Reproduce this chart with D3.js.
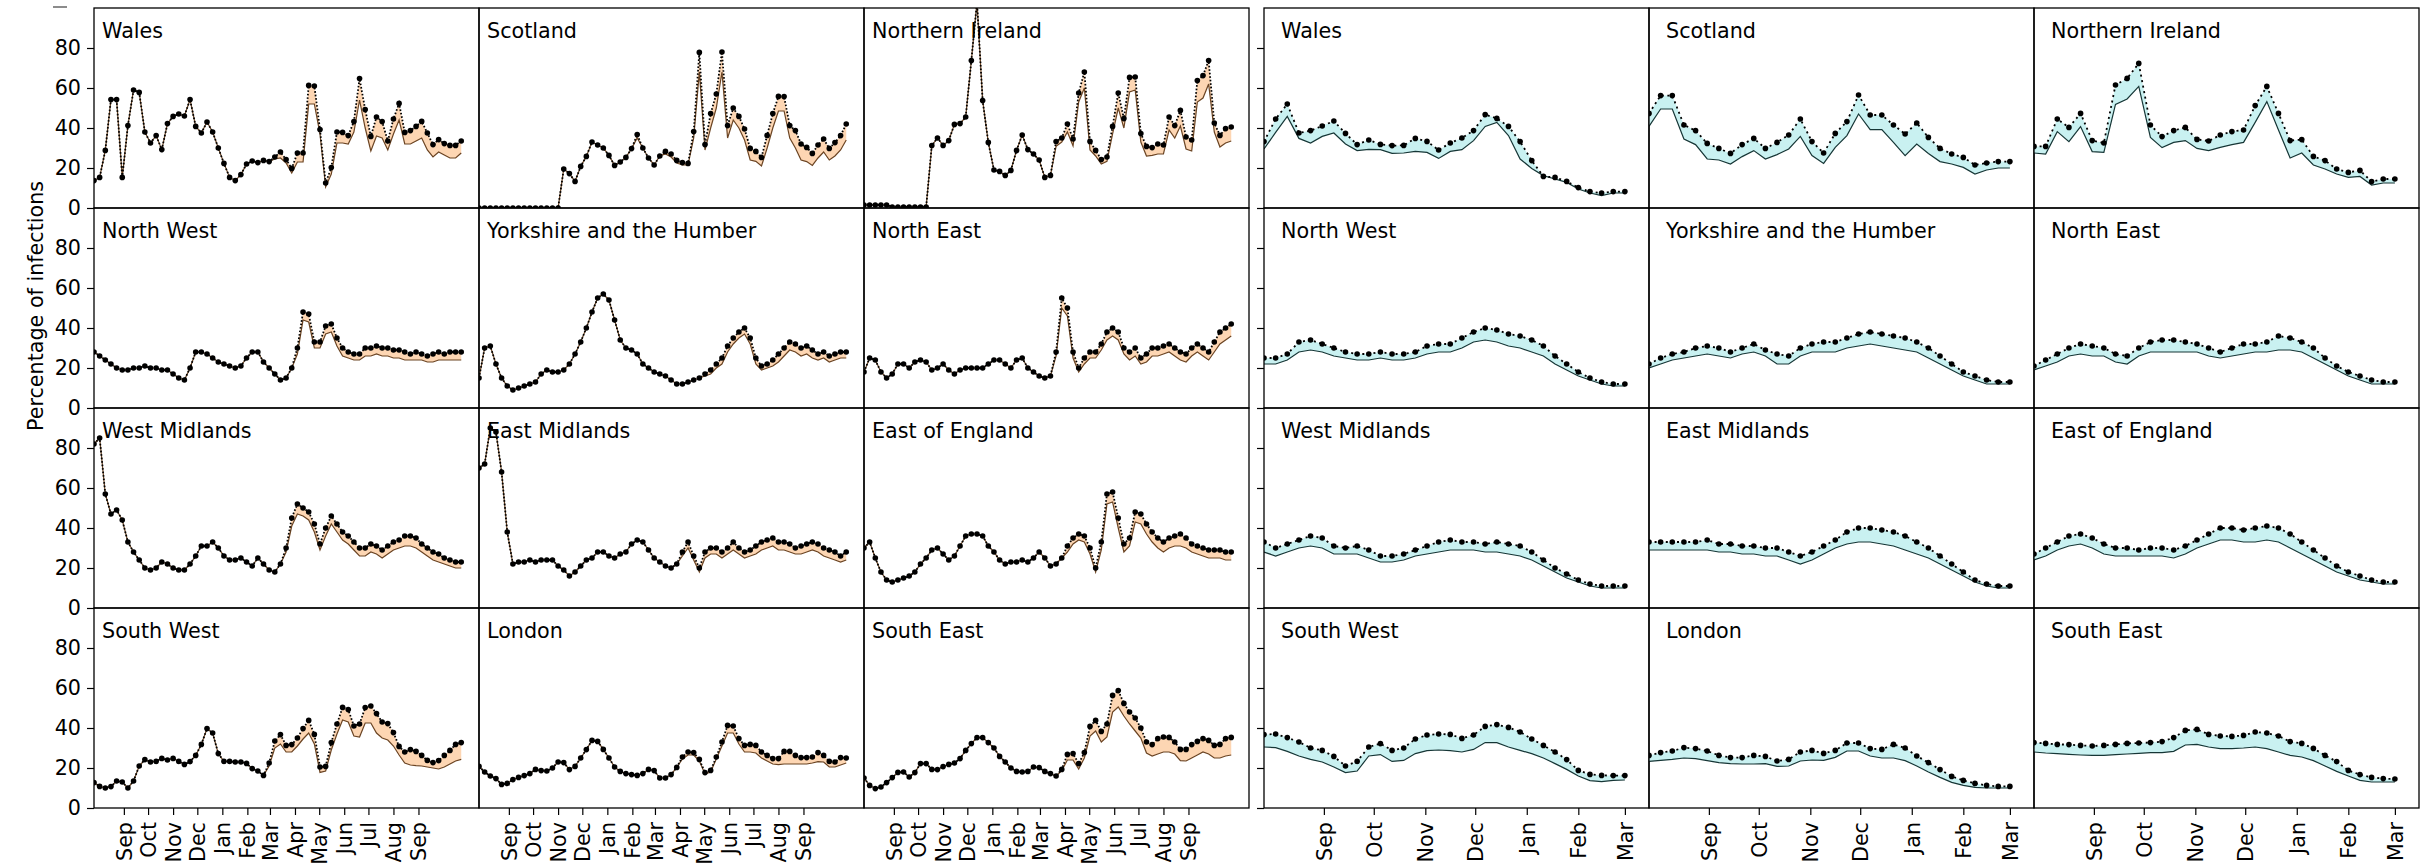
<!DOCTYPE html>
<html>
<head>
<meta charset="utf-8">
<script src="https://cdn.jsdelivr.net/npm/d3@7"></script>
<style>
  body { margin: 0; background: #fff; }
  svg { display: block; }
  text { font-family: "DejaVu Sans", sans-serif; }
</style>
</head>
<body>
<script>
const regions = ["Wales", "Scotland", "Northern Ireland", "North West", "Yorkshire and the Humber", "North East",
    "West Midlands", "East Midlands", "East of England", "South West", "London", "South East"];

// weekly series: left block 66 weeks, right block 32 weeks
const leftStart = "2021-07-26", leftWeeks = 66, leftSpanDays = 477;
const rightStart = "2020-07-27", rightWeeks = 32, rightSpanDays = 231.5;
const leftTicks = ["2021-09-01", "2021-10-01", "2021-11-01", "2021-12-01", "2022-01-01", "2022-02-01", "2022-03-01",
    "2022-04-01", "2022-05-01", "2022-06-01", "2022-07-01", "2022-08-01", "2022-09-01"];
const rightTicks = ["2020-09-01", "2020-10-01", "2020-11-01", "2020-12-01", "2021-01-01", "2021-02-01", "2021-03-01"];
const yTicks = [0, 20, 40, 60, 80];

// ---- left block ----
const leftWalesHigh = [13.7,15.3,28.8,54.2,54.2,15.3,41.2,59,57.8,38,32.5,36.2,29.2,42.2,45.8,47,46,54.2,40.8,37.5,43,38,30,22.3,15.3,13.7,16.7,22,23.5,22.7,23.8,23.2,25.5,28,24.2,19.8,27.5,27.5,61.3,61,39.2,12.5,20.2,38,37.8,36.2,43.2,64.7,49.2,35.8,45.5,43.2,33.5,44.5,52.3,37.8,38.7,40.8,43.3,37.5,31.7,34.2,32.2,31.3,31.3,33.5];
const leftWalesLow = [13.7,15.3,28.8,54.2,54.2,15.3,41.2,59,57.8,38,32.5,36.2,29.2,42.2,45.8,47,46,54.2,40.8,37.5,43,38,30,22.3,15.3,13.7,16.7,22,23.5,22.7,23.8,23.2,24.5,25,22.5,17.5,23,23,52,52,37,10.5,17,32.5,32.5,32,38,54,40,28.5,36,35,29,37,44,32,32,33.5,35,29,25.5,28,26.5,25,25,27.5];
const leftScotlandHigh = [0,0,0,0,0,0,0,0,0,0,0,0,0,0,0,19.5,17.2,13.3,20.8,25.8,33,31.5,30,26.3,21.3,23,25.3,29.7,36.7,30,25,21.5,26,28.3,27,23.8,22.7,22.3,38.2,77.8,31.7,47.2,57,78,41.2,50,45.8,39.5,29.8,28.3,25.3,36.3,47.2,55.8,55.7,41.2,38.7,32,30.3,27.3,31.5,34.5,29.8,32.7,36.2,42];
const leftScotlandLow = [0,0,0,0,0,0,0,0,0,0,0,0,0,0,0,19.5,17.2,13.3,20.8,25.8,33,31.5,30,26.3,21.3,23,25.3,29.7,35,30,25,21.5,26,27,25.5,22.5,21.5,21.5,35,68,29,40,50,68,35,44,40,34,24,23.3,21,30,40,48.5,48.5,35,30,24,23.2,21.3,25,28,24,26,29,34];
const leftNIHigh = [1.5,1.5,1.5,1.5,1.5,0.5,0.5,0.5,0.5,0.5,0.5,0.5,31.2,35,31.3,33.7,41.8,42.2,45.5,73.7,103,53.7,32.8,19,18.3,16.3,18.8,28.8,36.5,29.2,27,24,15.3,16.3,33.2,35,42,34.5,57.5,68,33.3,28.8,24.2,25.5,40.8,57.5,44.7,65.3,65.5,37.2,30.8,30.2,32,31.5,45.5,41.2,48.8,35.5,34,63.7,66.2,73.7,42.5,36.3,39.7,40.5];
const leftNILow = [1.5,1.5,1.5,1.5,1.5,0.5,0.5,0.5,0.5,0.5,0.5,0.5,31.2,35,31.3,33.7,41.8,42.2,45.5,73.7,103,53.7,32.8,19,18.3,16.3,18.8,28.8,36.5,29.2,27,24,15.3,16.3,30.8,33,38,31,53,60,29,26,22,23.3,37,50,40,58,59,33,26,26.3,27,27,39,35,41,29.5,28.5,53,55,62,38,30.5,32.5,33.5];
const leftNorthWestHigh = [28,26,24,22,20,19,19,20,20,21,20,20,19,19,17,15,14,20,28,28,27,25,23,22,21,20,21,25,28,28,23,20,17,14,15,20,30,48,47,33,33,41,42,35,30,28,27,27,30,30,31,30,30,29,29,28,27,28,27,26,27,28,27,28,28,28];
const leftNorthWestLow = [28,26,24,22,20,19,19,20,20,21,20,20,19,19,17,15,14,20,28,28,27,25,23,22,21,20,21,25,28,28,23,20,17,14,15,20,27,44,43,30,30,37,38,31,26,25,24,24,26,26,27,26,26,25,25,24,24,24,24,23,23,24,24,24,24,24];
const leftYorkshireHigh = [15,30,31,22,15,11,9,10,11,12,13,17,19,18,18,19,22,27,33,40,48,55,57,54,44,34,30,29,27,22,20,18,17,16,14,12,12,13,14,15,17,19,22,25,31,35,38,40,35,25,21,22,24,27,30,33,32,30,31,29,27,28,26,27,28,28];
const leftYorkshireLow = [15,30,31,22,15,11,9,10,11,12,13,17,19,18,18,19,22,27,33,40,48,55,57,54,44,34,30,29,27,22,20,18,17,16,14,12,12,13,14,15,16,17,20,22,28,32,35,37,32,22,19,20,21,23,26,29,28,26,27,25,24,25,23,24,25,25];
const leftNorthEastHigh = [18,25,24,18,15,17,22,22,20,23,24,23,19,20,22,19,17,19,20,20,20,20,22,24,24,22,20,24,25,20,18,16,15,16,28,55,50,28,20,25,28,28,32,38,40,38,30,28,30,25,27,30,30,31,32,30,28,27,30,32,30,28,33,38,40,42];
const leftNorthEastLow = [18,25,24,18,15,17,22,22,20,23,24,23,19,20,22,19,17,19,20,20,20,20,22,24,24,22,20,24,25,20,18,16,15,16,26,50,46,25,18,22,25,25,29,34,36,34,27,24,26,22,23,26,26,27,28,26,24,23,26,28,26,24,28,32,34,36];
const leftWestMidlandsHigh = [82,85,57,47,49,44,33,28,24,20,19,20,23,22,20,19,19,22,26,31,31,33,30,26,24,24,25,23,21,25,22,19,18,22,30,45,52,50,48,42,32,40,46,42,38,36,33,30,30,32,31,29,31,33,34,36,36,35,32,30,28,27,25,24,23,23];
const leftWestMidlandsLow = [82,85,57,47,49,44,33,28,24,20,19,20,23,22,20,19,19,22,26,31,31,33,30,26,24,24,25,23,21,25,22,19,18,22,28,41,47,46,44,38,29,36,42,38,34,32,29,26,26,28,27,25,27,29,30,31,31,30,28,26,24,23,22,21,20,20];
const leftEastMidlandsHigh = [70,72,90,88,68,38,22,23,23,24,23,24,24,24,21,19,16,18,21,24,25,28,28,26,25,27,28,32,34,33,29,25,23,21,20,22,28,33,26,20,28,30,30,28,30,33,30,28,29,31,33,34,35,33,33,32,30,31,32,33,32,30,29,28,26,28];
const leftEastMidlandsLow = [70,72,90,88,68,38,22,23,23,24,23,24,24,24,21,19,16,18,21,24,25,28,28,26,25,27,28,32,34,33,29,25,23,21,20,22,26,30,24,18,25,27,27,25,27,29,27,25,26,27,29,30,31,29,29,28,27,27,28,29,28,26,25,24,23,24];
const leftEastEnglandHigh = [30,33,25,18,14,13,14,15,16,18,22,25,29,30,27,24,26,31,36,37,37,36,31,28,24,22,23,23,24,23,25,28,25,21,22,25,31,35,37,36,30,20,33,57,58,45,32,35,48,47,42,38,35,33,35,36,37,35,32,31,30,29,29,29,28,28];
const leftEastEnglandLow = [30,33,25,18,14,13,14,15,16,18,22,25,29,30,27,24,26,31,36,37,37,36,31,28,24,22,23,23,24,23,25,28,25,21,22,25,28,32,34,33,27,18,29,52,53,40,28,31,43,42,37,33,30,28,30,31,31,30,28,27,26,25,25,25,24,24];
const leftSouthWestHigh = [12.7,10.8,10,10.7,13.5,13,10,13.5,21,24.2,23,23.3,24.8,24,24.8,23.3,21.8,23.2,26.3,31.8,39.7,37.5,27.2,23.3,23.3,23,23,22.3,19.7,18.5,16.3,22.5,33.5,36.7,31.3,31.7,35,39.7,43.8,36.8,20.5,20.8,32.7,42,50.3,49.2,41,42,50.2,51,47.2,43,42.2,37.7,30.8,28,29.2,28.3,26.3,23.8,22.7,23.7,26.3,28.8,31.8,32.7];
const leftSouthWestLow = [12.7,10.8,10,10.7,13.5,13,10,13.5,21,24.2,23,23.3,24.8,24,24.8,23.3,21.8,23.2,26.3,31.8,39.7,37.5,27.2,23.3,23.3,23,23,22.3,19.7,18.5,16.3,21,30,32,28,28,31,34.5,37.5,32,17.8,18.5,29,37,44,43,36,35.5,42.5,42.5,37.5,35,34,31,26.5,22.5,21.5,21.2,21,20.5,20,19.5,20.5,22,23.5,24.3];
const leftLondonHigh = [20.8,18,16,14.7,11.8,12.3,14.2,15.3,16.2,17.2,19.3,18.7,18.5,20,23,22.7,19.2,20.8,25,29.2,33.8,33.3,29.3,25,20.5,18.3,17.2,16.7,16.3,17.2,19.3,18.7,15,15,16.7,20.3,25.5,28,27.7,24.3,17.7,18.8,25.5,33,41.3,41,34.7,31.3,31.8,31.3,28,26.3,24.7,24.7,28.3,28.3,26.3,25.2,25.2,25.5,27.7,26.3,23.3,23,25.2,25];
const leftLondonLow = [20.8,18,16,14.7,11.8,12.3,14.2,15.3,16.2,17.2,19.3,18.7,18.5,20,23,22.7,19.2,20.8,25,29.2,33.8,33.3,29.3,25,20.5,18.3,17.2,16.7,16.3,17.2,19.3,18.7,15,15,16.7,20.3,24.5,26.5,26.5,23.5,17,18,24.5,31,37.5,37.5,32,28,28,27.5,25,23.5,22,21.7,22,22,22,22,22,22.5,23.2,23,20.5,20.5,21.5,22.5];
const leftSouthEastHigh = [15,11.3,9.7,10.5,12.7,15.2,17.8,18,15.5,17.7,22.2,22.2,19.3,19.2,20.7,21.8,22.5,24.7,28.8,32.2,35.2,35.2,32.7,30,25.8,23,20,18.3,18,18.3,20.5,20.2,18.3,17.2,16,19.3,26.8,27.2,22.2,27.7,40.8,43.8,38.3,42,56.3,58.7,52.3,48,45,40,33,31.7,34.7,35.5,35.3,33,29.3,29.3,31.7,33.3,34.7,33.8,31.3,31.8,34.7,35.3];
const leftSouthEastLow = [15,11.3,9.7,10.5,12.7,15.2,17.8,18,15.5,17.7,22.2,22.2,19.3,19.2,20.7,21.8,22.5,24.7,28.8,32.2,35.2,35.2,32.7,30,25.8,23,20,18.3,18,18.3,20.5,20.2,18.3,17.2,16,18.7,24,24,19.5,25,36,38.5,33,35.5,48,50.5,46,42,38.5,35,27.5,26,27,28,28,27,23.7,23.5,25,26.5,28,27,25,25,26,26.5];

// ---- right block ----
const rightWalesHigh = [33.2,44.5,52,37.5,38.7,41,43.5,37.3,31.7,34,31.8,31.2,31.3,34.8,33.3,29,32.5,35,38.7,46.7,44.8,40.8,33.2,23.7,15.8,15.3,13.3,10.2,8.2,7.5,8.2,8.2];
const rightWalesLow = [29.5,37.8,45.8,34.8,32.5,35.8,37.5,32,28.7,29.3,29.2,27.3,27.5,28.3,27.8,24.8,28.3,29.2,33.7,40.8,42.8,36.2,24.5,19.8,16.2,14.5,12.8,9.5,7.5,6.2,7.5,7.5];
const rightScotlandHigh = [47.3,56.2,56.2,41.5,38.7,32.3,29.8,27.3,31.7,34.8,29.8,32.8,36.5,44.5,33.2,27.5,37.3,43.2,56.5,46.5,46.5,41.5,37,42.5,35.3,29.8,27,25.3,21.5,22.5,23.2,23.2];
const rightScotlandLow = [40.8,49.5,49.5,34.5,31.7,24.5,24,22,25.7,28.7,24.5,26.7,29.5,35.8,26.2,22.3,30.3,36.2,47,39.2,39.2,32.8,26.2,32,27.3,23.2,22,20.3,17,19,20,20];
const rightNIHigh = [30.8,30.8,44.5,40.3,47.3,33.7,32.5,61.5,64.8,72.3,41.5,35.7,38.7,40.3,34.3,33.5,36.5,38.2,39,51.2,60.8,47.3,33.7,34.2,25.8,23.7,19.5,17.8,18.8,13.2,14.5,14.5];
const rightNILow = [27.5,27,38.2,33.2,40.7,28.2,27.8,51.8,54.5,60.8,35.3,30.2,32.8,33.7,29.8,28.7,30.3,31.7,32.8,42.8,53.2,39,25,27.5,21.5,19.5,17,15.3,15.8,11.5,12.5,12.5];
const rightNorthWestHigh = [25,25,27,33,34,32,30,28,27,27,28,27,27,28,31,32,32,35,38,40,39,37,36,34,31,26,22,18,15,13,12,12];
const rightNorthWestLow = [22,22,24,28,29,28,26,25,24,24,25,24,24,25,27,28,28,30,33,34,33,31,30,28,26,22,19,16,14,12,11,11];
const rightYorkshireHigh = [22,25,27,28,30,31,30,28,30,32,29,27,26,30,32,33,33,35,37,38,37,36,35,33,30,26,22,18,16,14,13,13];
const rightYorkshireLow = [20,22,24,25,26,27,26,25,27,28,26,22,22,26,28,28,28,30,31,32,31,30,29,28,25,22,19,16,14,12,12,12];
const rightNorthEastHigh = [21,24,27,30,32,31,30,27,26,30,33,34,34,33,32,30,28,30,32,32,33,36,35,33,30,25,21,18,16,14,13,13];
const rightNorthEastLow = [19,21,23,26,27,26,26,23,22,26,28,28,28,28,28,26,25,26,27,28,28,29,29,28,25,22,19,16,14,12,12,12];
const rightWestMidlandsHigh = [33,30,32,34,36,35,31,30,31,29,26,26,27,29,31,33,34,33,33,32,33,32,31,28,24,20,17,14,12,11,11,11];
const rightWestMidlandsLow = [28,26,28,30,31,30,27,27,27,25,23,23,24,26,27,28,29,29,29,28,28,27,26,24,21,18,15,13,11,10,10,10];
const rightEastMidlandsHigh = [33,33,33,33,33,34,32,32,31,31,30,30,28,26,28,31,34,38,40,40,39,38,36,33,30,26,22,18,14,12,11,11];
const rightEastMidlandsLow = [29,29,29,29,29,29,28,28,27,27,26,26,24,22,24,27,30,32,33,33,32,31,29,27,25,22,19,16,13,11,10,10];
const rightEastEnglandHigh = [27,30,33,36,37,35,32,30,30,29,30,30,29,31,34,37,40,40,39,40,41,40,37,33,29,25,21,18,16,14,13,13];
const rightEastEnglandLow = [24,26,29,31,32,30,27,26,26,26,26,26,25,27,30,32,34,34,33,33,34,33,30,27,24,21,18,16,14,13,12,12];
const rightSouthWestHigh = [36.7,37,35.2,33,30,28.8,25.8,21,23.3,30.5,32.2,28.8,30,34.5,36.5,37,36.8,34.8,36.5,40.8,41.7,40.3,38,34.5,31.3,28,24.2,18.8,16.8,16.3,16.2,16.2];
const rightSouthWestLow = [30.5,30.2,28.3,26,24.3,23,20.5,17.7,18.5,26,26.7,23.3,23.8,27.2,28.7,29,28.7,28,29.3,32.7,32.7,30.5,28.8,27.2,25,22.2,19.3,16,13.7,13.2,13.8,14];
const rightLondonHigh = [26.3,27.7,28.5,30.2,29.7,28.5,26.3,25.2,25.2,26.3,25.8,23.5,24.3,28,28.8,27.3,28.8,32.5,32.5,29.7,29.3,31.8,30,26,22.7,19.2,15.8,13.8,12.3,11.3,10.8,10.8];
const rightLondonLow = [23.3,23.8,24.3,25,24.7,23.7,22.7,22.2,22,22,22.2,20.8,21,23.5,24,23.8,25.3,28.5,28.5,26,25,25,23.7,21,18,15.3,12.8,11.3,10.3,10,10,10];
const rightSouthEastHigh = [32.7,32.3,31.8,31.7,31.3,31,31.3,31.8,32.3,32.5,32.7,33.2,35.2,38.8,39.3,36.8,36,35.8,36.3,38,37.5,36,33.2,32.3,29.8,26.3,23.2,18.8,16.7,15.3,14.7,14.5];
const rightSouthEastLow = [28,27.5,27.2,26.8,26.5,26.3,26.3,26.7,27,27.3,27.7,27.7,28.3,31.5,31.8,30.5,29.7,29.7,30,30.5,29.7,28,26.3,25.5,23.7,21,18.3,16,13.8,13,13,13];

const leftHigh = [leftWalesHigh, leftScotlandHigh, leftNIHigh, leftNorthWestHigh, leftYorkshireHigh, leftNorthEastHigh,
    leftWestMidlandsHigh, leftEastMidlandsHigh, leftEastEnglandHigh, leftSouthWestHigh, leftLondonHigh, leftSouthEastHigh];
const leftLow = [leftWalesLow, leftScotlandLow, leftNILow, leftNorthWestLow, leftYorkshireLow, leftNorthEastLow,
    leftWestMidlandsLow, leftEastMidlandsLow, leftEastEnglandLow, leftSouthWestLow, leftLondonLow, leftSouthEastLow];
const rightHigh = [rightWalesHigh, rightScotlandHigh, rightNIHigh, rightNorthWestHigh, rightYorkshireHigh, rightNorthEastHigh,
    rightWestMidlandsHigh, rightEastMidlandsHigh, rightEastEnglandHigh, rightSouthWestHigh, rightLondonHigh, rightSouthEastHigh];
const rightLow = [rightWalesLow, rightScotlandLow, rightNILow, rightNorthWestLow, rightYorkshireLow, rightNorthEastLow,
    rightWestMidlandsLow, rightEastMidlandsLow, rightEastEnglandLow, rightSouthWestLow, rightLondonLow, rightSouthEastLow];

const W = 2432, H = 866;
const topY = 8, colW = 385, rowH = 200;
const fontSize = 20.7;
const parse = d3.utcParse("%Y-%m-%d");
const weekly = (start, n) => d3.range(n).map(i => d3.utcDay.offset(parse(start), 7 * i));
const spanScale = (start, days) => d3.scaleUtc()
    .domain([parse(start), new Date(parse(start).getTime() + days * 864e5)])
    .range([0, colW]);

const svg = d3.select("body").append("svg")
    .attr("width", W)
    .attr("height", H);

const y = d3.scaleLinear().domain([0, 100]).range([rowH, 0]);

const blocks = [
    {
        x0: 94, dates: weekly(leftStart, leftWeeks), x: spanScale(leftStart, leftSpanDays),
        ticks: leftTicks, high: leftHigh, low: leftLow,
        fill: "#fdd6b3", lowColor: "#6b4423", dash: "1.6,1.9", yLabels: true, titleDx: 8
    },
    {
        x0: 1264, dates: weekly(rightStart, rightWeeks), x: spanScale(rightStart, rightSpanDays),
        ticks: rightTicks, high: rightHigh, low: rightLow,
        fill: "#c9f1f1", lowColor: "#163636", dash: "2,3.6", yLabels: false, titleDx: 17
    }
];

let clipId = 0;

blocks.forEach(b => {
    regions.forEach((name, k) => {
        const c = k % 3, r = Math.floor(k / 3);
        const g = svg.append("g")
            .attr("transform", `translate(${b.x0 + c * colW},${topY + r * rowH})`);

        const id = "clip" + (clipId++);
        g.append("clipPath").attr("id", id)
            .append("rect").attr("width", colW).attr("height", rowH);

        const hi = b.high[k], lo = b.low[k];
        const pts = b.dates.map((d, i) => ({ d: d, hi: hi[i], lo: lo[i] }));
        const plot = g.append("g").attr("clip-path", `url(#${id})`);

        plot.append("path")
            .attr("d", d3.area().x(p => b.x(p.d)).y0(p => y(p.lo)).y1(p => y(p.hi))(pts))
            .attr("fill", b.fill);

        plot.append("path")
            .attr("d", d3.line().x(p => b.x(p.d)).y(p => y(p.lo))(pts))
            .attr("fill", "none")
            .attr("stroke", b.lowColor)
            .attr("stroke-width", 1.2);

        plot.append("path")
            .attr("d", d3.line().x(p => b.x(p.d)).y(p => y(p.hi))(pts))
            .attr("fill", "none")
            .attr("stroke", "#000")
            .attr("stroke-width", 1.8)
            .attr("stroke-dasharray", b.dash);

        plot.selectAll("circle").data(pts).join("circle")
            .attr("cx", p => b.x(p.d))
            .attr("cy", p => y(p.hi))
            .attr("r", 2.8)
            .attr("fill", "#000");

        g.append("text")
            .attr("x", b.titleDx)
            .attr("y", 29.5)
            .attr("font-size", fontSize)
            .attr("fill", "#000")
            .text(name);

        if (c === 0) {
            const ay = g.append("g")
                .call(d3.axisLeft(y).tickValues(yTicks).tickSize(7).tickPadding(6)
                    .tickFormat(b.yLabels ? d3.format("d") : ""));
            ay.select(".domain").remove();
            ay.selectAll("line").attr("stroke-width", 1.2);
            ay.selectAll("text").attr("font-size", fontSize).attr("font-family", "DejaVu Sans");
        }

        if (r === 3) {
            const ax = g.append("g")
                .attr("transform", `translate(0,${rowH})`)
                .call(d3.axisBottom(b.x).tickValues(b.ticks.map(parse)).tickSize(7)
                    .tickFormat(d3.utcFormat("%b")));
            ax.select(".domain").remove();
            ax.selectAll("line").attr("stroke-width", 1.2);
            ax.selectAll("text")
                .attr("font-size", fontSize)
                .attr("font-family", "DejaVu Sans")
                .attr("transform", "rotate(-90)")
                .attr("x", -14)
                .attr("y", 0)
                .attr("dy", "0.35em")
                .attr("text-anchor", "end");
        }

        g.append("rect")
            .attr("width", colW)
            .attr("height", rowH)
            .attr("fill", "none")
            .attr("stroke", "#000")
            .attr("stroke-width", 1.3);
    });
});

svg.append("text")
    .attr("transform", "translate(43,306) rotate(-90)")
    .attr("text-anchor", "middle")
    .attr("font-size", fontSize)
    .text("Percentage of infections");

svg.append("line")
    .attr("x1", 53).attr("x2", 67)
    .attr("y1", 7).attr("y2", 7)
    .attr("stroke", "#666")
    .attr("stroke-width", 1.5);
</script>
</body>
</html>
